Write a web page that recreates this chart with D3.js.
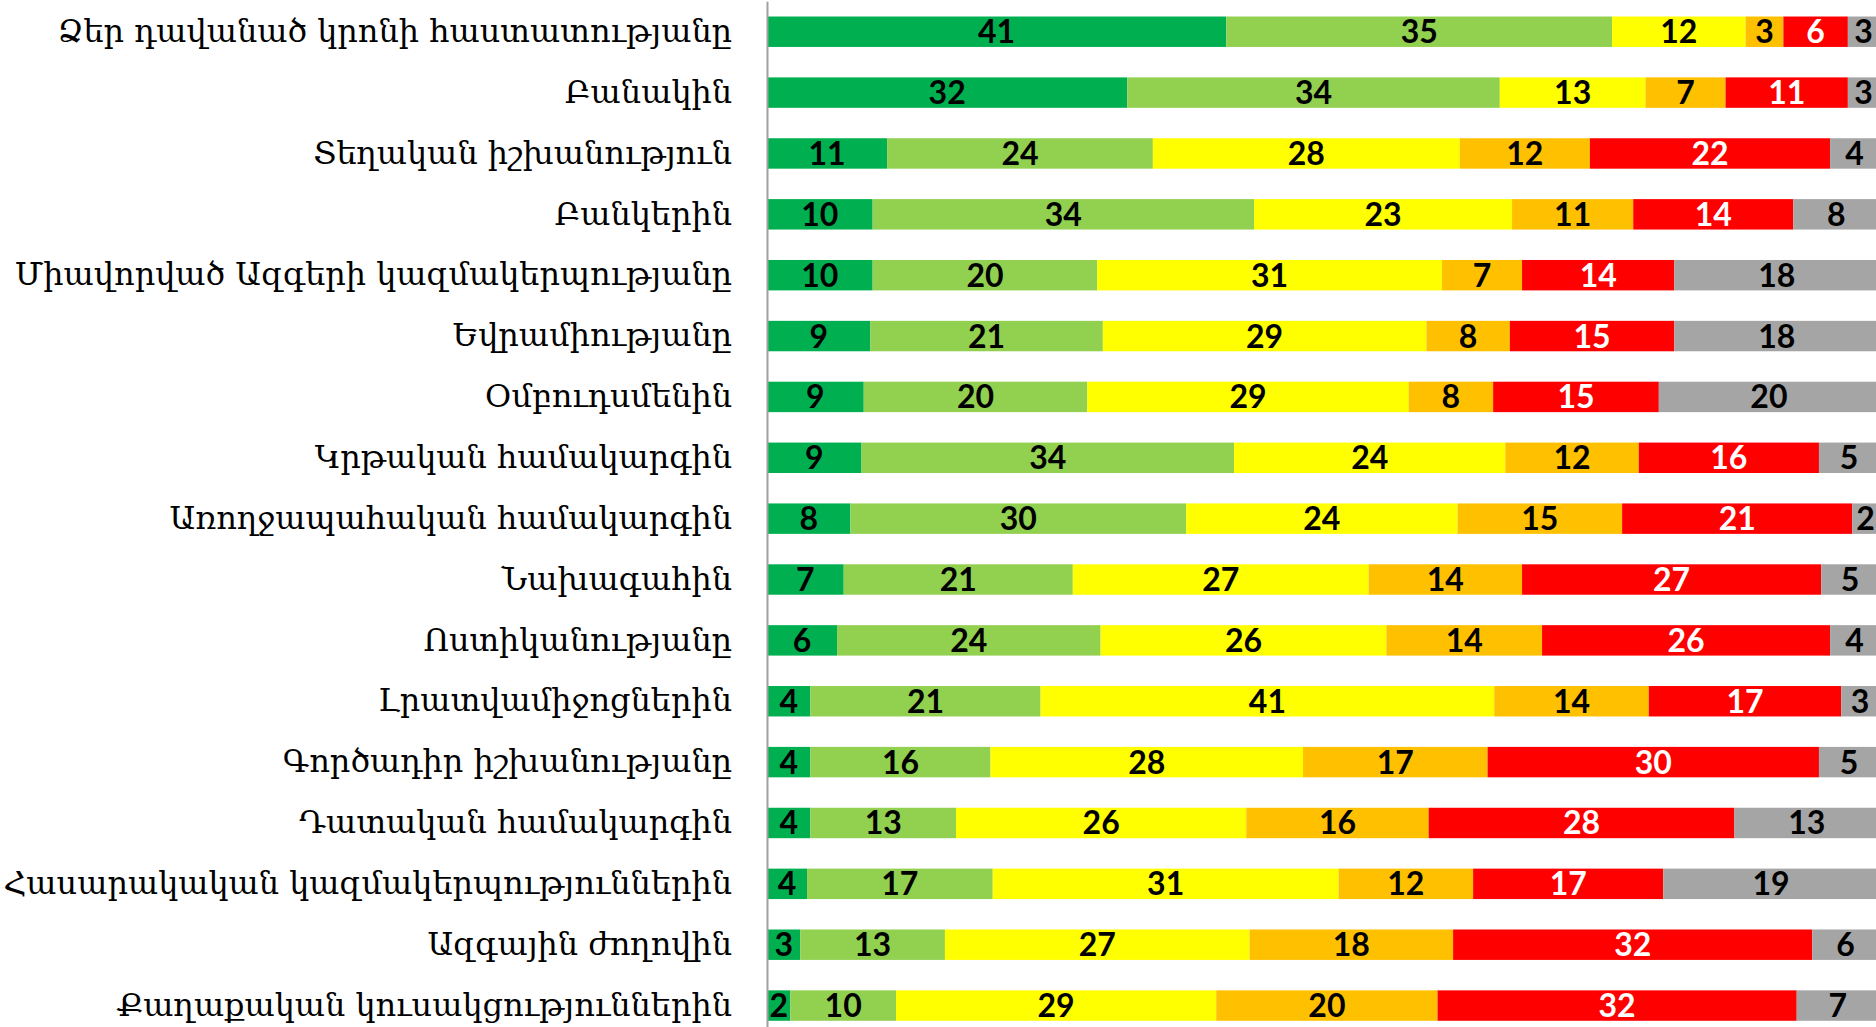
<!DOCTYPE html>
<html>
<head>
<meta charset="utf-8">
<script src="https://cdn.jsdelivr.net/npm/d3@7"></script>
<style>
  body { margin: 0; background: #fff; overflow: hidden; }
</style>
</head>
<body>
<script>
// institutions (top to bottom)
var categories = [
  "Ձեր դավանած կրոնի հաստատությանը",
  "Բանակին",
  "Տեղական իշխանություն",
  "Բանկերին",
  "Միավորված Ազգերի կազմակերպությանը",
  "Եվրամիությանը",
  "Օմբուդսմենին",
  "Կրթական համակարգին",
  "Առողջապահական համակարգին",
  "Նախագահին",
  "Ոստիկանությանը",
  "Լրատվամիջոցներին",
  "Գործադիր իշխանությանը",
  "Դատական համակարգին",
  "Հասարակական կազմակերպություններին",
  "Ազգային ժողովին",
  "Քաղաքական կուսակցություններին"
];

// series values, percent (labels show them rounded)
var fullTrust   = [41.3, 32.4, 10.8, 9.5, 9.5, 9.3, 8.7, 8.5, 7.5, 6.9, 6.3, 3.9, 3.9, 3.9, 3.6, 3.0, 2.1];
var ratherTrust = [34.7, 33.5, 23.9, 34.3, 20.2, 20.9, 20.1, 33.5, 30.2, 20.6, 23.7, 20.7, 16.2, 13.1, 16.7, 13.0, 9.5];
var neutral     = [12.0, 13.1, 27.6, 23.2, 31.0, 29.1, 28.9, 24.4, 24.4, 26.6, 25.7, 40.8, 28.1, 26.1, 31.1, 27.4, 28.8];
var ratherNot   = [3.4, 7.2, 11.7, 10.9, 7.2, 7.5, 7.6, 12.0, 14.8, 13.8, 14.0, 13.9, 16.6, 16.4, 12.1, 18.3, 19.9];
var noTrust     = [5.8, 11.0, 21.6, 14.4, 13.7, 14.8, 14.9, 16.2, 20.7, 26.9, 25.9, 17.3, 29.8, 27.5, 17.1, 32.3, 32.3];
var dontKnow    = [2.8, 2.8, 4.4, 7.7, 18.4, 18.4, 19.8, 5.4, 2.4, 5.2, 4.4, 3.4, 5.4, 13.0, 19.4, 6.0, 7.4];

var keys = ["fullTrust", "ratherTrust", "neutral", "ratherNot", "noTrust", "dontKnow"];
var colors = ["#00B050", "#92D050", "#FFFF00", "#FFC000", "#FF0000", "#A5A5A5"];
var labelColors = ["#000", "#000", "#000", "#000", "#fff", "#000"];

var series = [fullTrust, ratherTrust, neutral, ratherNot, noTrust, dontKnow];
var rows = categories.map(function(c, i) {
  var r = { cat: c };
  keys.forEach(function(k, j) { r[k] = series[j][i]; });
  return r;
});

var w = 1876;
var h = 1027;

var svg = d3.select("body").append("svg")
  .attr("width", w)
  .attr("height", h);

var x = d3.scaleLinear()
  .domain([0, 100])
  .range([767, 1879]);

var y = d3.scaleBand()
  .domain(categories)
  .range([1.3, 1036])
  .paddingInner(0.5)
  .paddingOuter(0.25);

var stacked = d3.stack().keys(keys)(rows);

var layer = svg.selectAll("g.layer")
  .data(stacked)
  .enter()
  .append("g")
  .attr("class", "layer")
  .attr("fill", function(d, i) { return colors[i]; });

layer.selectAll("rect")
  .data(function(d) { return d; })
  .enter()
  .append("rect")
  .attr("x", function(d) { return x(d[0]); })
  .attr("y", function(d) { return y(d.data.cat); })
  .attr("width", function(d) { return x(d[1]) - x(d[0]); })
  .attr("height", y.bandwidth());

layer.selectAll("text")
  .data(function(d) { return d.map(function(p) { return { p: p, key: d.key }; }); })
  .enter()
  .append("text")
  .attr("x", function(d) { return (x(d.p[0]) + x(d.p[1])) / 2; })
  .attr("y", function(d) { return y(d.p.data.cat) + y.bandwidth() / 2; })
  .attr("dy", "0.36em")
  .attr("text-anchor", "middle")
  .attr("font-family", "Lato, 'Liberation Sans', sans-serif")
  .attr("font-weight", "bold")
  .attr("font-size", 32)
  .attr("fill", function(d) { return labelColors[keys.indexOf(d.key)]; })
  .text(function(d) { return Math.round(d.p.data[d.key]); });

// category axis
var yAxis = svg.append("g")
  .attr("transform", "translate(" + x(0) + ",0)")
  .call(d3.axisLeft(y).tickSize(0).tickPadding(35));

yAxis.select(".domain")
  .attr("stroke", "#A0A0A0")
  .attr("stroke-width", 2);

var catLabels = yAxis.selectAll("text")
  .attr("font-family", "'DejaVu Serif', serif")
  .attr("font-size", 30)
  .attr("fill", "#000");

// size the labels so the longest one reaches the left edge like in the original
var longest = d3.max(catLabels.nodes(), function(n) { return n.getComputedTextLength(); });
catLabels.attr("font-size", 30 * 729 / longest);
</script>
</body>
</html>
